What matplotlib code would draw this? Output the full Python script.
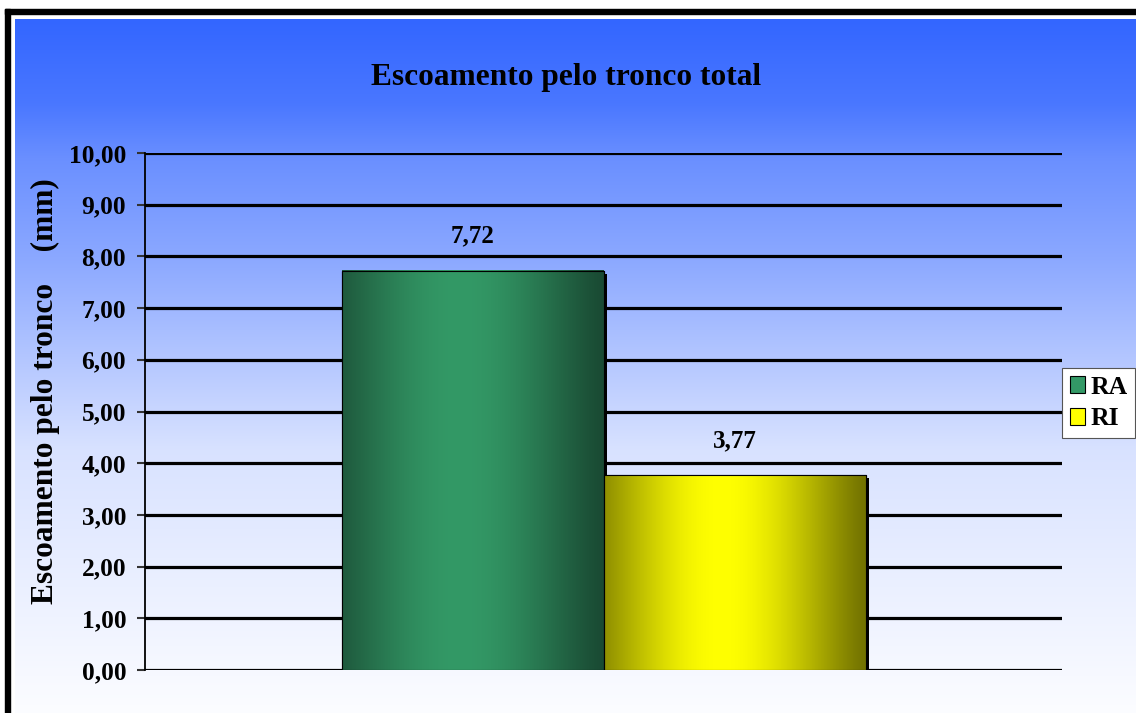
import matplotlib
matplotlib.use("Agg")
import matplotlib.pyplot as plt
import matplotlib.patheffects as pe
from matplotlib.patches import Rectangle
import numpy as np

# data
categories = ["RA", "RI"]
values = [7.72, 3.77]
labels = ["7,72", "3,77"]
title = "Escoamento pelo tronco total"
ylabel = "Escoamento pelo tronco    (mm)"
yticks = [0, 1, 2, 3, 4, 5, 6, 7, 8, 9, 10]

edge_cols = [(0.10, 0.29, 0.20), (0.45, 0.45, 0.0)]
mid_cols = [(0.20, 0.60, 0.40), (1.0, 1.0, 0.0)]

W, H = 1136, 713
plt.rcParams['font.family'] = ['Liberation Serif', 'DejaVu Serif']
plt.rcParams['font.weight'] = 'bold'

fig = plt.figure(figsize=(W / 100, H / 100), dpi=100)
fig.patch.set_facecolor('white')

# background gradient (blue -> white)
bg = fig.add_axes([15 / W, 0, 1 - 15 / W, (H - 19) / H], zorder=-5)
t = np.linspace(0, 1, 400)
f = np.interp(t, [0, 0.12, 0.2, 0.35, 0.62, 1.0], [0, 0.11, 0.27, 0.44, 0.81, 0.985])
top = np.array([0.20, 0.40, 1.0])
grad = top[None, :] + (1 - top[None, :]) * f[:, None]
bg.imshow(grad[:, None, :], aspect='auto', extent=[0, 1, 0, 1], origin='upper')
bg.set_axis_off()

# outer black frame
fig.patches.append(Rectangle((5 / W, (H - 14) / H), 1 - 5 / W, 5 / H,
                             transform=fig.transFigure, color='black', zorder=10))
fig.patches.append(Rectangle((5 / W, 0), 5 / W, (H - 9) / H,
                             transform=fig.transFigure, color='black', zorder=10))

ax = fig.add_axes([145 / W, (H - 670) / H, (1062 - 145) / W, (670 - 153) / H])
ax.patch.set_alpha(0)

w = 2 / 7
x = np.array([-w / 2, w / 2])

for yv in yticks:
    ax.axhline(yv, color='black', lw=2.3, zorder=1)

bars = ax.bar(x, values, width=w, color='black', edgecolor='black', lw=0.8, zorder=2,
              path_effects=[pe.SimplePatchShadow(offset=(2.2, -2.2), shadow_rgbFace='black', alpha=1),
                            pe.Normal()])
s = np.linspace(0, 1, 300)
prof = np.clip(1 - np.abs(s - 0.45) / 0.55, 0, 1) ** 1.2
prof = np.sin(prof * np.pi / 2)
for b, ec, mc, lab in zip(bars, edge_cols, mid_cols, labels):
    x0, y0 = b.get_x(), b.get_y()
    bw, bh = b.get_width(), b.get_height()
    ec, mc = np.array(ec), np.array(mc)
    img = ec[None, :] + (mc - ec)[None, :] * prof[:, None]
    ax.imshow(img[None, :, :], aspect='auto', extent=[x0, x0 + bw, y0, y0 + bh],
              zorder=2.5, interpolation='bilinear')
    ax.add_patch(Rectangle((x0, y0), bw, bh, fill=False, edgecolor='black', lw=0.8, zorder=3))
    ax.text(x0 + bw / 2, bh + 0.45, lab, ha='center', va='bottom', fontsize=18, fontweight='bold')
ax.set_xlim(-0.5, 0.5)
ax.set_ylim(0, 10)

ax.set_yticks(yticks)
ax.set_yticklabels(["%d,00" % v for v in yticks], fontsize=18.3, fontweight='bold')
ax.tick_params(axis='y', direction='out', length=6, width=1.5, color='#333333', pad=7.5)
ax.set_xticks([])
for sp in ['top', 'right', 'bottom']:
    ax.spines[sp].set_visible(False)
ax.spines['left'].set_linewidth(1.3)

ax.set_ylabel(ylabel, fontsize=22.6, fontweight='bold')
ax.yaxis.set_label_coords(-0.093, 0.54)
fig.text(566 / W, (H - 78) / H, title, ha='center', va='center', fontsize=22.6, fontweight='bold')

handles = [Rectangle((0, 0), 1, 1, facecolor=mc, edgecolor='black', lw=0.8) for mc in mid_cols]
leg = fig.legend(handles, categories, loc='center left',
                 bbox_to_anchor=(1062 / W, (H - 403) / H), prop={'size': 18.5, 'weight': 'bold'},
                 fancybox=False, framealpha=1, edgecolor='#555555', handlelength=0.6,
                 handleheight=0.6, handletextpad=0.2, borderpad=0.3, labelspacing=0.35,
                 borderaxespad=0)
leg.get_frame().set_linewidth(0.8)

fig.savefig('out.png', dpi=100)
